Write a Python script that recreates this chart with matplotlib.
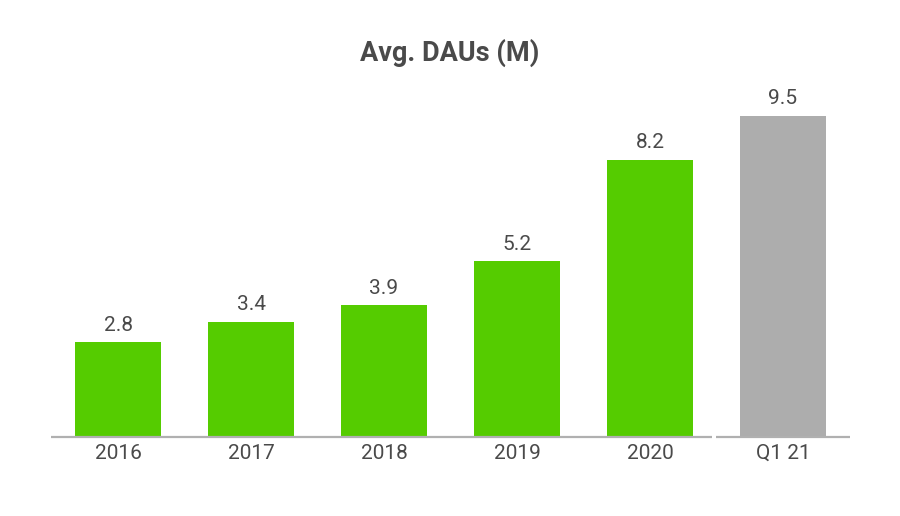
import matplotlib
matplotlib.use("Agg")
import matplotlib.pyplot as plt

categories = ["2016", "2017", "2018", "2019", "2020", "Q1 21"]
values = [2.8, 3.4, 3.9, 5.2, 8.2, 9.5]
labels = ["2.8", "3.4", "3.9", "5.2", "8.2", "9.5"]
colors = ["#55CC00"] * 5 + ["#ADADAD"]

plt.rcParams['font.family'] = ['Roboto', 'DejaVu Sans']
text_color = "#4a4a4a"

fig = plt.figure(figsize=(9, 5.16), dpi=100)
fig.patch.set_facecolor("white")
ax = fig.add_axes([51 / 900, (516 - 437) / 516, 799 / 900, 405.6 / 516])
ax.set_facecolor("none")

x = list(range(len(categories)))
ax.bar(x, values, width=0.647, color=colors, zorder=2)
for xi, v, lab in zip(x, values, labels):
    ax.annotate(lab, (xi, v), xytext=(0, 5.5), textcoords="offset points",
                ha="center", va="bottom", fontsize=15, color=text_color)

ax.set_xlim(-0.504, 5.504)
ax.set_ylim(0, 12)
for s in ax.spines.values():
    s.set_visible(False)
ax.set_yticks([])
ax.set_xticks(x)
ax.set_xticklabels(categories, fontsize=15, color=text_color)
ax.tick_params(axis="x", length=0, pad=5)

ax.hlines(0, -0.504, 4.466, color="#b0b0b0", linewidth=1.6, zorder=3, clip_on=False)
ax.hlines(0, 4.496, 5.504, color="#b0b0b0", linewidth=1.6, zorder=3, clip_on=False)

fig.text(0.5, 1 - 53 / 516, "Avg. DAUs (M)", ha="center", va="center",
         fontsize=19.5, fontweight="bold", color=text_color)

fig.savefig("out.png", dpi=100)
